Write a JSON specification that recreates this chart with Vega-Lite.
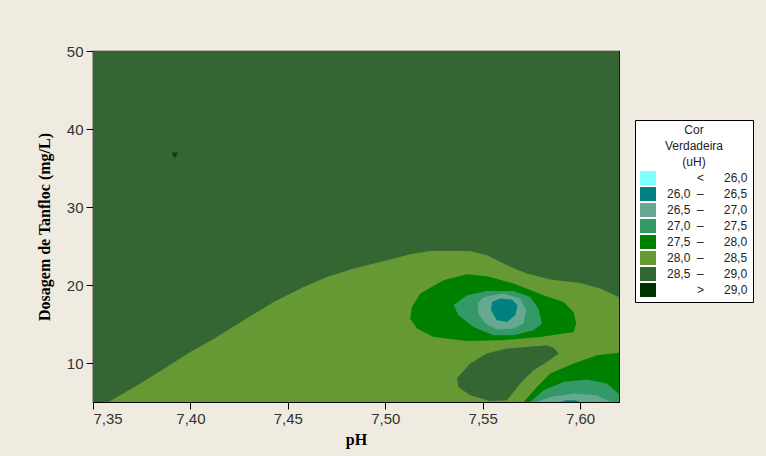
{
  "$schema": "https://vega.github.io/schema/vega-lite/v6.json",
  "width": 526,
  "height": 351,
  "autosize": {"type": "none"},
  "padding": {"left": 93, "top": 51, "right": 147, "bottom": 54},
  "background": "#EFEBE1",
  "config": {
    "view": {"stroke": "#000000", "strokeWidth": 1.2},
    "axis": {
      "domainColor": "#000000",
      "tickColor": "#000000",
      "tickSize": 7,
      "grid": false,
      "labelFont": "Liberation Sans",
      "labelFontSize": 15,
      "labelColor": "#333333",
      "titleFont": "Liberation Serif",
      "titleFontSize": 16,
      "titleFontWeight": "bold",
      "titleColor": "#000000"
    }
  },
  "datasets": {
    "contours": [
      {"p": "P00", "c": "28.5-29", "o": 1, "x": 7.35, "y": 5},
      {"p": "P00", "c": "28.5-29", "o": 2, "x": 7.35, "y": 50},
      {"p": "P00", "c": "28.5-29", "o": 3, "x": 7.62, "y": 50},
      {"p": "P00", "c": "28.5-29", "o": 4, "x": 7.62, "y": 5},

      {"p": "P01", "c": "28-28.5", "o": 1, "x": 7.358, "y": 5},
      {"p": "P01", "c": "28-28.5", "o": 2, "x": 7.3742, "y": 7.36},
      {"p": "P01", "c": "28-28.5", "o": 3, "x": 7.3879, "y": 9.49},
      {"p": "P01", "c": "28-28.5", "o": 4, "x": 7.3999, "y": 11.41},
      {"p": "P01", "c": "28-28.5", "o": 5, "x": 7.4136, "y": 13.33},
      {"p": "P01", "c": "28-28.5", "o": 6, "x": 7.4273, "y": 15.47},
      {"p": "P01", "c": "28-28.5", "o": 7, "x": 7.4427, "y": 17.82},
      {"p": "P01", "c": "28-28.5", "o": 8, "x": 7.4581, "y": 19.74},
      {"p": "P01", "c": "28-28.5", "o": 9, "x": 7.4701, "y": 21.03},
      {"p": "P01", "c": "28-28.5", "o": 10, "x": 7.4837, "y": 22.1},
      {"p": "P01", "c": "28-28.5", "o": 11, "x": 7.4974, "y": 22.95},
      {"p": "P01", "c": "28-28.5", "o": 12, "x": 7.5128, "y": 23.94},
      {"p": "P01", "c": "28-28.5", "o": 13, "x": 7.5231, "y": 24.36},
      {"p": "P01", "c": "28-28.5", "o": 14, "x": 7.5436, "y": 24.36},
      {"p": "P01", "c": "28-28.5", "o": 15, "x": 7.5522, "y": 23.81},
      {"p": "P01", "c": "28-28.5", "o": 16, "x": 7.5625, "y": 22.53},
      {"p": "P01", "c": "28-28.5", "o": 17, "x": 7.5727, "y": 21.46},
      {"p": "P01", "c": "28-28.5", "o": 18, "x": 7.5847, "y": 20.69},
      {"p": "P01", "c": "28-28.5", "o": 19, "x": 7.6001, "y": 20.26},
      {"p": "P01", "c": "28-28.5", "o": 20, "x": 7.6104, "y": 19.54},
      {"p": "P01", "c": "28-28.5", "o": 21, "x": 7.62, "y": 18.46},
      {"p": "P01", "c": "28-28.5", "o": 22, "x": 7.62, "y": 5},

      {"p": "P02", "c": "27.5-28", "o": 1, "x": 7.5419, "y": 21.37},
      {"p": "P02", "c": "27.5-28", "o": 2, "x": 7.5299, "y": 20.6},
      {"p": "P02", "c": "27.5-28", "o": 3, "x": 7.518, "y": 18.9},
      {"p": "P02", "c": "27.5-28", "o": 4, "x": 7.5137, "y": 17.18},
      {"p": "P02", "c": "27.5-28", "o": 5, "x": 7.5128, "y": 15.69},
      {"p": "P02", "c": "27.5-28", "o": 6, "x": 7.5163, "y": 14.41},
      {"p": "P02", "c": "27.5-28", "o": 7, "x": 7.5248, "y": 13.33},
      {"p": "P02", "c": "27.5-28", "o": 8, "x": 7.5419, "y": 12.82},
      {"p": "P02", "c": "27.5-28", "o": 9, "x": 7.559, "y": 12.91},
      {"p": "P02", "c": "27.5-28", "o": 10, "x": 7.5796, "y": 13.33},
      {"p": "P02", "c": "27.5-28", "o": 11, "x": 7.5967, "y": 13.97},
      {"p": "P02", "c": "27.5-28", "o": 12, "x": 7.598, "y": 15.05},
      {"p": "P02", "c": "27.5-28", "o": 13, "x": 7.5967, "y": 16.54},
      {"p": "P02", "c": "27.5-28", "o": 14, "x": 7.5915, "y": 17.82},
      {"p": "P02", "c": "27.5-28", "o": 15, "x": 7.5813, "y": 18.68},
      {"p": "P02", "c": "27.5-28", "o": 16, "x": 7.5659, "y": 20.18},
      {"p": "P02", "c": "27.5-28", "o": 17, "x": 7.5522, "y": 21.12},

      {"p": "P03", "c": "27-27.5", "o": 1, "x": 7.5351, "y": 17.4},
      {"p": "P03", "c": "27-27.5", "o": 2, "x": 7.5419, "y": 18.68},
      {"p": "P03", "c": "27-27.5", "o": 3, "x": 7.5522, "y": 19.23},
      {"p": "P03", "c": "27-27.5", "o": 4, "x": 7.5659, "y": 19.23},
      {"p": "P03", "c": "27-27.5", "o": 5, "x": 7.5744, "y": 18.46},
      {"p": "P03", "c": "27-27.5", "o": 6, "x": 7.5787, "y": 16.97},
      {"p": "P03", "c": "27-27.5", "o": 7, "x": 7.5804, "y": 15.05},
      {"p": "P03", "c": "27-27.5", "o": 8, "x": 7.5761, "y": 14.19},
      {"p": "P03", "c": "27-27.5", "o": 9, "x": 7.5659, "y": 13.55},
      {"p": "P03", "c": "27-27.5", "o": 10, "x": 7.5556, "y": 13.55},
      {"p": "P03", "c": "27-27.5", "o": 11, "x": 7.5453, "y": 14.62},
      {"p": "P03", "c": "27-27.5", "o": 12, "x": 7.5376, "y": 16.12},

      {"p": "P04", "c": "26.5-27", "o": 1, "x": 7.5474, "y": 17.62},
      {"p": "P04", "c": "26.5-27", "o": 2, "x": 7.5505, "y": 18.46},
      {"p": "P04", "c": "26.5-27", "o": 3, "x": 7.5607, "y": 18.9},
      {"p": "P04", "c": "26.5-27", "o": 4, "x": 7.5693, "y": 18.26},
      {"p": "P04", "c": "26.5-27", "o": 5, "x": 7.5724, "y": 16.76},
      {"p": "P04", "c": "26.5-27", "o": 6, "x": 7.571, "y": 15.05},
      {"p": "P04", "c": "26.5-27", "o": 7, "x": 7.5659, "y": 14.41},
      {"p": "P04", "c": "26.5-27", "o": 8, "x": 7.5573, "y": 14.28},
      {"p": "P04", "c": "26.5-27", "o": 9, "x": 7.5513, "y": 15.05},
      {"p": "P04", "c": "26.5-27", "o": 10, "x": 7.5479, "y": 16.33},

      {"p": "P05", "c": "26-26.5", "o": 1, "x": 7.5548, "y": 17.82},
      {"p": "P05", "c": "26-26.5", "o": 2, "x": 7.559, "y": 18.26},
      {"p": "P05", "c": "26-26.5", "o": 3, "x": 7.565, "y": 18.13},
      {"p": "P05", "c": "26-26.5", "o": 4, "x": 7.5679, "y": 17.4},
      {"p": "P05", "c": "26-26.5", "o": 5, "x": 7.5667, "y": 16.12},
      {"p": "P05", "c": "26-26.5", "o": 6, "x": 7.5625, "y": 15.26},
      {"p": "P05", "c": "26-26.5", "o": 7, "x": 7.5573, "y": 15.47},
      {"p": "P05", "c": "26-26.5", "o": 8, "x": 7.5543, "y": 16.76},

      {"p": "P06", "c": "28.5-29", "o": 1, "x": 7.5368, "y": 8.0},
      {"p": "P06", "c": "28.5-29", "o": 2, "x": 7.5436, "y": 9.92},
      {"p": "P06", "c": "28.5-29", "o": 3, "x": 7.5522, "y": 11.21},
      {"p": "P06", "c": "28.5-29", "o": 4, "x": 7.5625, "y": 11.85},
      {"p": "P06", "c": "28.5-29", "o": 5, "x": 7.583, "y": 12.27},
      {"p": "P06", "c": "28.5-29", "o": 6, "x": 7.5864, "y": 11.97},
      {"p": "P06", "c": "28.5-29", "o": 7, "x": 7.589, "y": 11.21},
      {"p": "P06", "c": "28.5-29", "o": 8, "x": 7.583, "y": 10.13},
      {"p": "P06", "c": "28.5-29", "o": 9, "x": 7.5761, "y": 9.06},
      {"p": "P06", "c": "28.5-29", "o": 10, "x": 7.5693, "y": 7.36},
      {"p": "P06", "c": "28.5-29", "o": 11, "x": 7.5625, "y": 5.22},
      {"p": "P06", "c": "28.5-29", "o": 12, "x": 7.5539, "y": 5.13},
      {"p": "P06", "c": "28.5-29", "o": 13, "x": 7.5436, "y": 5.86},
      {"p": "P06", "c": "28.5-29", "o": 14, "x": 7.5376, "y": 6.92},

      {"p": "P07", "c": "27.5-28", "o": 1, "x": 7.571, "y": 5},
      {"p": "P07", "c": "27.5-28", "o": 2, "x": 7.5779, "y": 6.92},
      {"p": "P07", "c": "27.5-28", "o": 3, "x": 7.5847, "y": 8.64},
      {"p": "P07", "c": "27.5-28", "o": 4, "x": 7.5967, "y": 9.92},
      {"p": "P07", "c": "27.5-28", "o": 5, "x": 7.6087, "y": 10.99},
      {"p": "P07", "c": "27.5-28", "o": 6, "x": 7.6189, "y": 11.28},
      {"p": "P07", "c": "27.5-28", "o": 7, "x": 7.62, "y": 11.3},
      {"p": "P07", "c": "27.5-28", "o": 8, "x": 7.62, "y": 5},

      {"p": "P08", "c": "27-27.5", "o": 1, "x": 7.5744, "y": 5},
      {"p": "P08", "c": "27-27.5", "o": 2, "x": 7.5813, "y": 6.5},
      {"p": "P08", "c": "27-27.5", "o": 3, "x": 7.5915, "y": 7.56},
      {"p": "P08", "c": "27-27.5", "o": 4, "x": 7.6035, "y": 7.87},
      {"p": "P08", "c": "27-27.5", "o": 5, "x": 7.6138, "y": 7.36},
      {"p": "P08", "c": "27-27.5", "o": 6, "x": 7.6189, "y": 6.28},
      {"p": "P08", "c": "27-27.5", "o": 7, "x": 7.62, "y": 6.0},
      {"p": "P08", "c": "27-27.5", "o": 8, "x": 7.62, "y": 5},

      {"p": "P09", "c": "26.5-27", "o": 1, "x": 7.5779, "y": 5},
      {"p": "P09", "c": "26.5-27", "o": 2, "x": 7.5847, "y": 5.64},
      {"p": "P09", "c": "26.5-27", "o": 3, "x": 7.5967, "y": 6.08},
      {"p": "P09", "c": "26.5-27", "o": 4, "x": 7.6087, "y": 5.86},
      {"p": "P09", "c": "26.5-27", "o": 5, "x": 7.6138, "y": 5.22},
      {"p": "P09", "c": "26.5-27", "o": 6, "x": 7.6155, "y": 5},

      {"p": "P10", "c": "26-26.5", "o": 1, "x": 7.5898, "y": 5},
      {"p": "P10", "c": "26-26.5", "o": 2, "x": 7.5929, "y": 5.22},
      {"p": "P10", "c": "26-26.5", "o": 3, "x": 7.5975, "y": 5.22},
      {"p": "P10", "c": "26-26.5", "o": 4, "x": 7.6, "y": 5}
    ],
    "marker": [
      {"x": 7.392, "y": 36.6}
    ]
  },
  "layer": [
    {
      "data": {"name": "contours"},
      "mark": {"type": "line", "interpolate": "linear-closed", "filled": true, "strokeWidth": 0, "clip": true},
      "encoding": {
        "x": {
          "field": "x", "type": "quantitative",
          "scale": {"domain": [7.35, 7.62], "nice": false, "zero": false},
          "axis": {
            "title": "pH",
            "values": [7.35, 7.4, 7.45, 7.5, 7.55, 7.6],
            "labelExpr": "replace(format(datum.value, '.2f'), '.', ',')",
            "labelPadding": 2,
            "titlePadding": 5
          }
        },
        "y": {
          "field": "y", "type": "quantitative",
          "scale": {"domain": [5, 50], "nice": false, "zero": false},
          "axis": {
            "title": "Dosagem de Tanfloc (mg/L)",
            "values": [10, 20, 30, 40, 50],
            "labelPadding": 3,
            "titlePadding": 14
          }
        },
        "detail": {"field": "p"},
        "order": {"field": "o", "type": "quantitative"},
        "fill": {
          "field": "c", "type": "nominal",
          "scale": {
            "domain": ["lt26", "26-26.5", "26.5-27", "27-27.5", "27.5-28", "28-28.5", "28.5-29", "gt29"],
            "range": ["#80FFFF", "#008080", "#66A890", "#339966", "#008000", "#669933", "#336633", "#003300"]
          },
          "legend": {
            "title": ["Cor", "Verdadeira", "(uH)"],
            "orient": "none",
            "legendX": 542,
            "legendY": 69,
            "padding": 5,
            "fillColor": "#FFFFFF",
            "strokeColor": "#000000",
            "titleFont": "Liberation Sans",
            "titleFontSize": 12,
            "titleFontWeight": "normal",
            "titleColor": "#222222",
            "titleLineHeight": 16,
            "titleAnchor": "middle",
            "titleAlign": "center",
            "titlePadding": 1,
            "labelFont": "Liberation Sans",
            "labelFontSize": 12,
            "labelColor": "#222222",
            "labelOffset": 11,
            "labelLimit": 200,
            "rowPadding": 1,
            "symbolType": "M-1,-0.875L1,-0.875L1,0.875L-1,0.875Z",
            "symbolSize": 256,
            "symbolStrokeWidth": 0,
            "symbolOpacity": 1,
            "labelExpr": "({'lt26': '\u200b\u00a0\u00a0\u00a0\u00a0\u00a0\u00a0\u00a0\u00a0\u00a0<\u00a0\u00a0\u00a0\u00a0\u00a0\u00a026,0', '26-26.5': '26,0\u00a0\u00a0\u2013\u00a0\u00a0\u00a0\u00a0\u00a0\u00a026,5', '26.5-27': '26,5\u00a0\u00a0\u2013\u00a0\u00a0\u00a0\u00a0\u00a0\u00a027,0', '27-27.5': '27,0\u00a0\u00a0\u2013\u00a0\u00a0\u00a0\u00a0\u00a0\u00a027,5', '27.5-28': '27,5\u00a0\u00a0\u2013\u00a0\u00a0\u00a0\u00a0\u00a0\u00a028,0', '28-28.5': '28,0\u00a0\u00a0\u2013\u00a0\u00a0\u00a0\u00a0\u00a0\u00a028,5', '28.5-29': '28,5\u00a0\u00a0\u2013\u00a0\u00a0\u00a0\u00a0\u00a0\u00a029,0', 'gt29': '\u200b\u00a0\u00a0\u00a0\u00a0\u00a0\u00a0\u00a0\u00a0\u00a0>\u00a0\u00a0\u00a0\u00a0\u00a0\u00a029,0'})[datum.label]"
          }
        }
      }
    },
    {
      "data": {"name": "marker"},
      "mark": {"type": "point", "shape": "triangle-down", "filled": true, "size": 45, "color": "#0A3F0F", "opacity": 1},
      "encoding": {
        "x": {"field": "x", "type": "quantitative"},
        "y": {"field": "y", "type": "quantitative"}
      }
    }
  ]
}
